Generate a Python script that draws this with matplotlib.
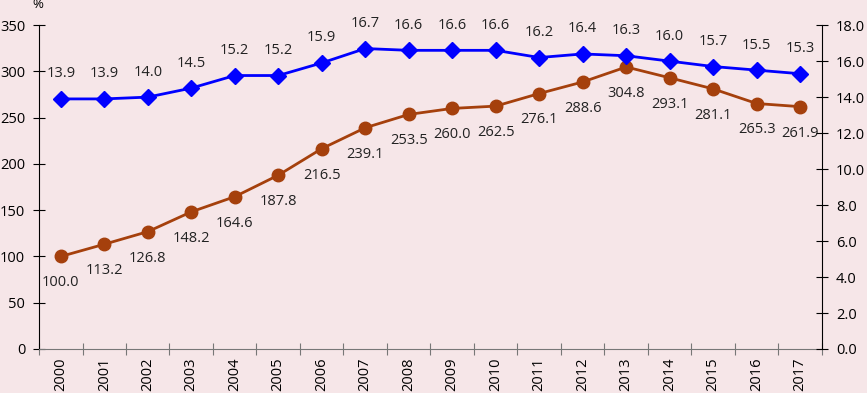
import matplotlib.pyplot as plt
import numpy as np

years = [str(y) for y in range(2000, 2018)]
index_vals = [100.0, 113.2, 126.8, 148.2, 164.6, 187.8, 216.5, 239.1, 253.5,
              260.0, 262.5, 276.1, 288.6, 304.8, 293.1, 281.1, 265.3, 261.9]
share_vals = [13.9, 13.9, 14.0, 14.5, 15.2, 15.2, 15.9, 16.7, 16.6,
              16.6, 16.6, 16.2, 16.4, 16.3, 16.0, 15.7, 15.5, 15.3]

bg = '#F6E6E8'
brown = '#A5400C'
blue = '#0000FF'

plt.rcParams['font.family'] = ['Open Sans', 'DejaVu Sans']
plt.rcParams['font.size'] = 10.5

fig = plt.figure(figsize=(8.67, 3.93), dpi=100, facecolor=bg)
ax = fig.add_axes([0.045, 0.112, 0.903, 0.824], facecolor=bg)
ax2 = ax.twinx()

x = np.arange(len(years))
ax.plot(x, index_vals, color=brown, lw=2, marker='o', ms=9, zorder=3)
ax2.plot(x, share_vals, color=blue, lw=2, marker='D', ms=8, zorder=3)

for i, v in enumerate(index_vals):
    ax.annotate(f'{v:.1f}', (i, v), xytext=(0, -19), textcoords='offset points',
                ha='center', va='center', color='#222222')
for i, v in enumerate(share_vals):
    ax2.annotate(f'{v:.1f}', (i, v), xytext=(0, 18), textcoords='offset points',
                 ha='center', va='center', color='#222222')

ax.set_xlim(-0.5, len(years) - 0.5)
ax.set_ylim(0, 350)
ax2.set_ylim(0, 18)
ax.set_yticks(np.arange(0, 351, 50))
ax2.set_yticks(np.arange(0, 18.1, 2))
ax2.set_yticklabels([f'{t:.1f}' for t in np.arange(0, 18.1, 2)])

ax.set_xticks(np.arange(-0.5, len(years), 1), minor=False)
ax.set_xticklabels([''] * (len(years) + 1))
ax.set_xticks(x, minor=True)
ax.set_xticklabels(years, minor=True, rotation=90)
ax.tick_params(axis='x', which='minor', length=0, pad=6)
ax.tick_params(axis='x', which='major', direction='inout', length=8, color='#777777')
ax.tick_params(axis='y', direction='inout', length=8, pad=6)
ax2.tick_params(axis='y', direction='inout', length=8, pad=6)

for a in (ax, ax2):
    a.spines['top'].set_visible(False)
ax.spines['right'].set_visible(False)
ax2.spines['left'].set_visible(False)
ax2.spines['bottom'].set_visible(False)
ax.spines['bottom'].set_color('#777777')

ax.text(-0.52, 365, '%', ha='center', va='bottom', fontsize=9.5, clip_on=False)

plt.savefig('out.png', dpi=100, facecolor=bg)
